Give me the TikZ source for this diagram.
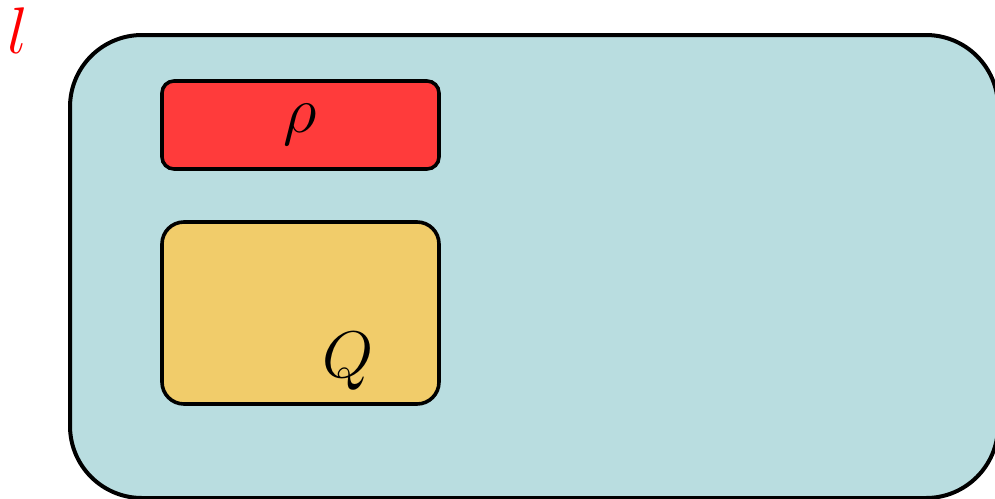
\documentclass[tikz,border=0pt]{standalone}
\usepackage{graphicx}
\definecolor{frameteal}{HTML}{B9DDE0}
\definecolor{boxred}{HTML}{FF3B3B}
\definecolor{boxyellow}{HTML}{F1CC6A}
\newcommand{\hugemath}[1]{\scalebox{2.65}{\Huge$#1$}}
\tikzset{
  panel/.style={draw=black, inner sep=0pt, outer sep=0pt, anchor=north west},
  lbl/.style={inner sep=0pt, anchor=base}
}
\begin{document}
\begin{tikzpicture}[x=1pt,y=-1pt]
\useasboundingbox (0,0) rectangle (995,498);
\begin{scope}
\clip (0,0) rectangle (995,498);
\node[panel, line width=4pt, fill=frameteal, rounded corners=72pt,
      minimum width=928pt, minimum height=463pt] (frame) at (70,35) {};
\end{scope}
\node[panel, line width=3.6pt, fill=boxred, rounded corners=12pt,
      minimum width=277pt, minimum height=88pt] (rho) at (162,81) {};
\node[lbl] (rholbl) at (300,132) {\hugemath{\rho}};
\node[panel, line width=3.6pt, fill=boxyellow, rounded corners=22pt,
      minimum width=277pt, minimum height=182pt] (qbox) at (162,222) {};
\node[lbl] (qlbl) at (348,377) {\hugemath{Q}};
\node[lbl, text=red] (llbl) at (18,53) {\hugemath{l}};
\end{tikzpicture}
\end{document}
